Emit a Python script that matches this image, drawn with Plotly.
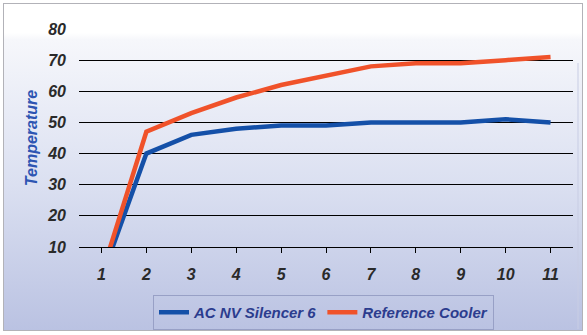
import base64
import plotly.graph_objects as go

# Test points and measured temperatures
runs = [1, 2, 3, 4, 5, 6, 7, 8, 9, 10, 11]
silencer_temps = [0, 40, 46, 48, 49, 49, 50, 50, 50, 51, 50]
reference_temps = [1, 47, 53, 58, 62, 65, 68, 69, 69, 70, 71]
y_ticks = [10, 20, 30, 40, 50, 60, 70, 80]

W, H = 587, 335
L, R, T, B = 79, 14, 29, 88
pw, ph = W - L - R, H - T - B


def px_x(px):
    return (px - L) / pw


def px_y(py):
    return (H - B - py) / ph


# Soft white-to-lavender backdrop with a thin grey frame
fw, fh = 580, 328
svg = f'''<svg xmlns="http://www.w3.org/2000/svg" width="{fw}" height="{fh}" viewBox="0 0 {fw} {fh}" preserveAspectRatio="none">
<defs><linearGradient id="g" x1="0" y1="0" x2="0" y2="1">
<stop offset="0" stop-color="#ffffff"/>
<stop offset="0.09" stop-color="#ffffff"/>
<stop offset="0.11" stop-color="#f6f7fb"/>
<stop offset="0.55" stop-color="#dbe0f1"/>
<stop offset="1" stop-color="#bac2e2"/>
</linearGradient></defs>
<rect x="0.5" y="0.5" width="{fw-1}" height="{fh-1}" fill="url(#g)" stroke="#b2b2b8" stroke-width="1"/>
<line x1="{fw-5}" y1="60" x2="{fw-5}" y2="{fh-2}" stroke="#c8cde4" stroke-width="1"/>
</svg>'''
bg_src = "data:image/svg+xml;base64," + base64.b64encode(svg.encode()).decode()

fig = go.Figure()
fig.add_trace(go.Scatter(
    x=runs, y=silencer_temps, mode="lines", name="AC NV Silencer 6",
    line=dict(color="#1450a8", width=4.5),
))
fig.add_trace(go.Scatter(
    x=runs, y=reference_temps, mode="lines", name="Reference Cooler",
    line=dict(color="#f0522a", width=4.5),
))

tick_font = dict(family="Liberation Sans, Arial, sans-serif", size=16, color="#2a2a2a",
                 weight="bold", style="italic")

fig.update_layout(
    width=W, height=H,
    margin=dict(l=L, r=R, t=T, b=B, autoexpand=False),
    paper_bgcolor="#ffffff",
    plot_bgcolor="rgba(0,0,0,0)",
    images=[dict(
        source=bg_src, xref="paper", yref="paper",
        x=px_x(3), y=px_y(3), sizex=px_x(3 + fw) - px_x(3), sizey=px_y(3) - px_y(3 + fh),
        xanchor="left", yanchor="top", sizing="stretch", layer="below",
    )],
    xaxis=dict(
        range=[0.5, 11.5], tickmode="array", tickvals=runs, ticktext=[str(r) for r in runs],
        tickson="boundaries", ticks="outside", ticklen=5, tickcolor="#000000", tickwidth=1,
        showline=True, linecolor="#000000", linewidth=1, showgrid=False, zeroline=False,
        tickfont=tick_font, ticklabelstandoff=8, fixedrange=True, automargin=False,
    ),
    yaxis=dict(
        range=[10, 80], tickmode="array", tickvals=y_ticks,
        showgrid=True, gridcolor="#000000", gridwidth=1, zeroline=False, showline=False,
        tickfont=tick_font, ticklabelstandoff=12, automargin=False,
        title=dict(text="Temperature", standoff=5,
                   font=dict(family="Liberation Sans, Arial, sans-serif", size=16,
                             color="#2d55b2", weight="bold", style="italic")),
        fixedrange=True,
    ),
    legend=dict(
        orientation="h", x=px_x(323.5), y=px_y(312.5), xanchor="center", yanchor="middle",
        bgcolor="rgba(0,0,0,0)", bordercolor="#98a0c6", borderwidth=1,
        font=dict(family="Liberation Sans, Arial, sans-serif", size=15,
                  color="#2b3c8e", weight="bold", style="italic"),
        itemwidth=30, tracegroupgap=0,
    ),
    showlegend=True,
)

fig.write_html("out.html")
